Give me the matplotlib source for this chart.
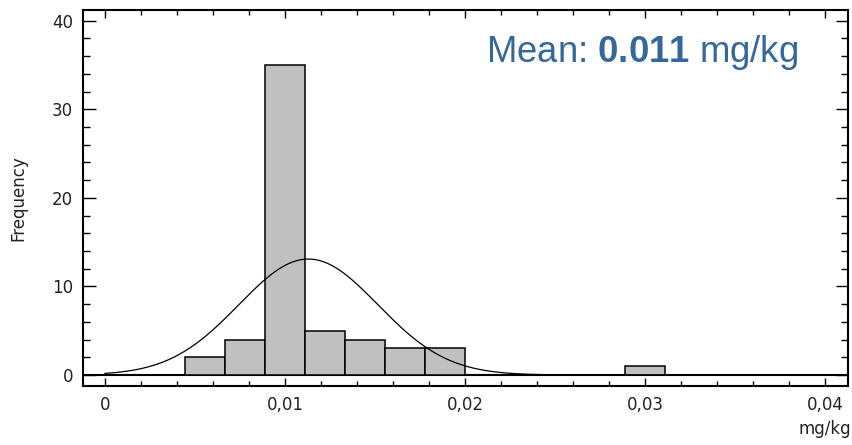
"""
Histogram of concentrations with fitted normal curve.
"""

import numpy as np
import matplotlib.pyplot as plt
import matplotlib.ticker as ticker

# bin edges (mg/kg) and counts
bin_left  = [0.02 * k / 9 for k in (2, 3, 4, 5, 6, 7, 8, 13)]
bin_width = 0.02 / 9
counts    = [2, 4, 35, 5, 4, 3, 3, 1]

# fitted normal curve parameters
fit_mean = 0.0113
fit_sd   = 0.00386
n_total  = sum(counts)

x_ticks      = [0, 0.01, 0.02, 0.03, 0.04]
x_ticklabels = ["0", "0,01", "0,02", "0,03", "0,04"]
y_ticks      = [0, 10, 20, 30, 40]

plt.rcParams["font.family"] = ["DejaVu Sans"]
plt.rcParams["mathtext.fontset"] = "custom"
plt.rcParams["mathtext.rm"] = "Liberation Sans"
plt.rcParams["mathtext.bf"] = "Liberation Sans:bold"

fig = plt.figure(figsize=(8.52, 4.45), dpi=100)
ax = fig.add_axes([0.0974, 0.1326, 0.8979, 0.8449])

ax.bar(bin_left, counts, width=bin_width, align="edge",
       color="#C0C0C0", edgecolor="black", linewidth=1.1, zorder=2)

xs = np.linspace(0, 0.04, 400)
ys = n_total * bin_width / (fit_sd * np.sqrt(2 * np.pi)) * np.exp(-0.5 * ((xs - fit_mean) / fit_sd) ** 2)
ax.plot(xs, ys, color="black", linewidth=0.9, zorder=3)

ax.axhline(0, color="black", linewidth=1.5, zorder=1)

ax.set_xlim(-0.00122, 0.04128)
ax.set_ylim(-1.24, 41.2)

ax.set_xticks(x_ticks)
ax.set_xticklabels(x_ticklabels)
ax.set_yticks(y_ticks)
ax.xaxis.set_minor_locator(ticker.MultipleLocator(0.002))
ax.yaxis.set_minor_locator(ticker.MultipleLocator(2))

ax.tick_params(axis="both", which="both", direction="in", top=True, right=True,
               labelsize=12, colors="black", labelcolor="#222222", width=1.0)
ax.tick_params(axis="x", which="major", length=6, pad=7)
ax.tick_params(axis="x", which="minor", length=3.5)
ax.tick_params(axis="y", which="major", length=9, pad=7)
ax.tick_params(axis="y", which="minor", length=5)

for sp in ax.spines.values():
    sp.set_linewidth(1.5)

ax.set_ylabel("Frequency", fontsize=12, color="#222222", labelpad=18)
fig.text(0.999, 0.035, "mg/kg", ha="right", va="center", fontsize=12, color="#222222")

ax.text(0.935, 0.888, "Mean: $\\mathbf{0.011}$ mg/kg", transform=ax.transAxes,
        ha="right", va="center", fontsize=26.3, color="#35679A",
        family="Liberation Sans")

plt.savefig("out.png", dpi=100)
plt.close()
print("Saved: out.png")
